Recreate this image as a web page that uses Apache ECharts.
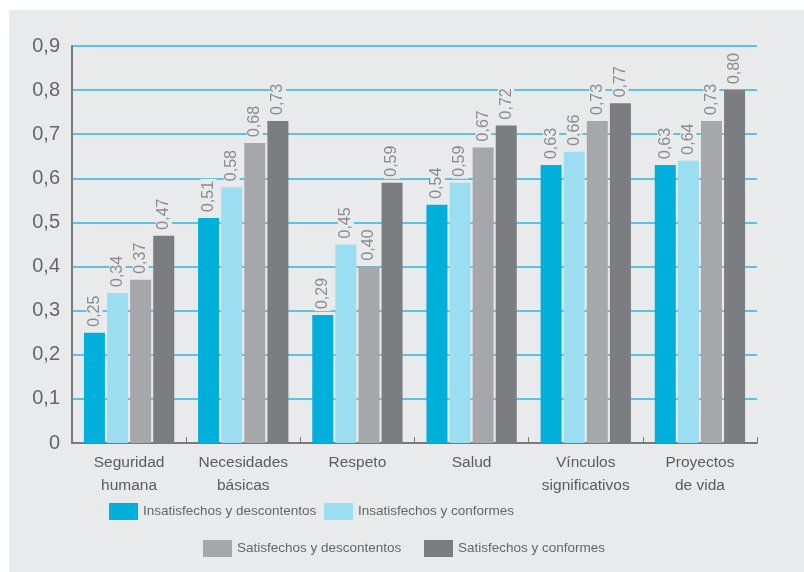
<!DOCTYPE html>
<html>
<head>
<meta charset="utf-8">
<script src="https://cdn.jsdelivr.net/npm/echarts@6/dist/echarts.min.js"></script>
<style>
  html, body { margin: 0; padding: 0; background: #ffffff; }
  #frame { position: absolute; left: 9px; top: 10px; width: 795px; height: 562px; background: #e9eaec; }
  #chart { position: absolute; left: 0; top: 0; width: 804px; height: 572px; }
</style>
</head>
<body>
<div id="frame"></div>
<div id="chart"></div>
<script>
// Dimensions of wellbeing (categories) and four satisfaction groups
const categories = [
  'Seguridad\nhumana',
  'Necesidades\nbásicas',
  'Respeto',
  'Salud',
  'Vínculos\nsignificativos',
  'Proyectos\nde vida'
];
const seriesNames = [
  'Insatisfechos y descontentos',
  'Insatisfechos y conformes',
  'Satisfechos y descontentos',
  'Satisfechos y conformes'
];
const insatDescontentos = [0.25, 0.51, 0.29, 0.54, 0.63, 0.63];
const insatConformes    = [0.34, 0.58, 0.45, 0.59, 0.66, 0.64];
const satDescontentos   = [0.37, 0.68, 0.40, 0.67, 0.73, 0.73];
const satConformes      = [0.47, 0.73, 0.59, 0.72, 0.77, 0.80];
const yTicks = [0, 0.1, 0.2, 0.3, 0.4, 0.5, 0.6, 0.7, 0.8, 0.9];

const colors = ['#00afda', '#9bdef2', '#a6a7aa', '#7c7d81'];
const panel = '#e9eaec';
const values = [insatDescontentos, insatConformes, satDescontentos, satConformes];

const comma = (v, d) => v.toFixed(d).replace('.', ',');

const chart = echarts.init(document.getElementById('chart'), null, { renderer: 'canvas' });

const series = seriesNames.map((name, i) => ({
  name,
  type: 'bar',
  data: values[i],
  barWidth: 21,
  barGap: '10%',
  itemStyle: { color: colors[i] },
  label: {
    show: true,
    position: 'top',
    rotate: 90,
    align: 'left',
    verticalAlign: 'middle',
    distance: 4,
    color: '#8c8c8e',
    fontSize: 16,
    fontFamily: 'Liberation Sans, Arial, sans-serif',
    backgroundColor: panel,
    padding: [0, 2, 0, 2],
    formatter: p => comma(p.value, 2)
  }
}));

// One legend box per entry, laid out in two staggered rows
const legendPos = [
  { left: 109, top: 503 },
  { left: 324, top: 503 },
  { left: 203, top: 540 },
  { left: 424, top: 540 }
];
const legends = seriesNames.map((name, i) => ({
  data: [name],
  left: legendPos[i].left,
  top: legendPos[i].top,
  icon: 'rect',
  itemWidth: 29,
  itemHeight: 17,
  itemGap: 0,
  itemTextGap: 6,
  padding: 0,
  selectedMode: false,
  textStyle: {
    color: '#666666',
    fontSize: 13.5,
    fontFamily: 'Liberation Sans, Arial, sans-serif'
  }
}));

chart.setOption({
  backgroundColor: 'transparent',
  animation: false,
  color: colors,
  grid: { left: 72, top: 46, width: 685, height: 397, containLabel: false },
  legend: legends,
  xAxis: {
    type: 'category',
    data: categories,
    axisLine: { show: true, lineStyle: { color: '#7a7a7a', width: 2 } },
    axisTick: { show: true, inside: true, length: 6, lineStyle: { color: '#7a7a7a', width: 1 } },
    axisLabel: {
      interval: 0,
      color: '#5c5c5c',
      fontSize: 15.5,
      lineHeight: 23,
      margin: 8,
      fontFamily: 'Liberation Sans, Arial, sans-serif'
    },
    splitLine: { show: false }
  },
  yAxis: {
    type: 'value',
    min: yTicks[0],
    max: yTicks[yTicks.length - 1],
    interval: 0.1,
    axisLine: { show: true, lineStyle: { color: '#7a7a7a', width: 2 } },
    axisTick: { show: false },
    axisLabel: {
      color: '#666666',
      fontSize: 20,
      margin: 12,
      fontFamily: 'Liberation Sans, Arial, sans-serif',
      formatter: v => (v === 0 ? '0' : comma(v, 1))
    },
    splitLine: { show: true, lineStyle: { color: '#2cb6e0', width: 1.5 } }
  },
  series
});
</script>
</body>
</html>
